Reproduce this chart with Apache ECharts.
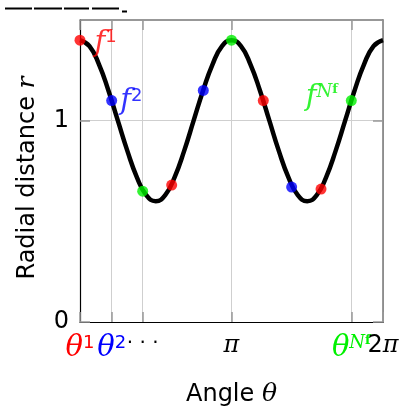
<!DOCTYPE html>
<html>
<head>
<meta charset="utf-8">
<script src="https://cdn.jsdelivr.net/npm/echarts@6/dist/echarts.min.js"></script>
<style>
  html, body { margin: 0; padding: 0; background: #fff; }
  #chart { width: 399px; height: 408px; }
</style>
</head>
<body>
<div id="chart"></div>
<script>
// curve r(theta) at steps of pi/16
const curveTheta = [0, 0.196, 0.393, 0.589, 0.785, 0.982, 1.178, 1.374, 1.571, 1.767, 1.963, 2.160, 2.356,
  2.553, 2.749, 2.945, 3.142, 3.338, 3.534, 3.731, 3.927, 4.123, 4.320, 4.516, 4.712, 4.909, 5.105,
  5.301, 5.498, 5.694, 5.890, 6.087, 6.283]
const curveR = [1.40, 1.37, 1.28, 1.15, 1.00, 0.85, 0.72, 0.63, 0.60, 0.63, 0.72, 0.85, 1.00,
  1.15, 1.28, 1.37, 1.40, 1.37, 1.28, 1.15, 1.00, 0.85, 0.72, 0.63, 0.60, 0.63, 0.72,
  0.85, 1.00, 1.15, 1.28, 1.37, 1.40]

// sample points on the curve
const pointTheta = [0, 0.657, 1.300, 1.901, 2.557, 3.142, 3.801, 4.389, 4.998, 5.626]
const pointR = [1.40, 1.10, 0.65, 0.68, 1.15, 1.40, 1.10, 0.67, 0.66, 1.10]
const pointColor = ['#ff0000', '#0000ff', '#00f000', '#ff0000', '#0000ff', '#00f000',
  '#ff0000', '#0000ff', '#ff0000', '#00f000']

// tick values and labels (2pi goes on its own overlay axis so it is not hidden by overlap)
const xTickValues = [0, 0.657, 1.300, Math.PI, 5.626, 2 * Math.PI]
const xLabelValues = [0, 0.657, 1.300, Math.PI, 5.626]
const xTickLabels = ['{r|θ}{rs|1}', '{b|θ}{bs|2}', '{d|· · ·}', '{k|π}', '{g|θ}{gs|N}{gss|f}']
const xEndValue = [2 * Math.PI]
const xEndLabel = '{n|2}{k|π}'
const yTickValues = [0, 1]
const yTickLabels = ['0', '1']

const chart = echarts.init(document.getElementById('chart'))

const sansFont = '"DejaVu Sans", sans-serif'
const mathFont = '"DejaVu Serif", serif'
const green = '#00f000'

const rich = {
  r: { color: '#ff0000', fontFamily: mathFont, fontStyle: 'italic', fontSize: 29 },
  rs: { color: '#ff0000', fontFamily: sansFont, fontSize: 18, verticalAlign: 'top' },
  b: { color: '#0000ff', fontFamily: mathFont, fontStyle: 'italic', fontSize: 29 },
  bs: { color: '#0000ff', fontFamily: sansFont, fontSize: 18, verticalAlign: 'top' },
  g: { color: green, fontFamily: mathFont, fontStyle: 'italic', fontSize: 29 },
  gs: { color: green, fontFamily: mathFont, fontStyle: 'italic', fontSize: 18, verticalAlign: 'top' },
  gss: { color: green, fontFamily: mathFont, fontWeight: 'bold', fontSize: 13, verticalAlign: 'top' },
  d: { color: '#000', fontFamily: sansFont, fontSize: 20, padding: [0, 0, 14, 0] },
  n: { color: '#000', fontFamily: sansFont, fontSize: 24 },
  k: { color: '#000', fontFamily: mathFont, fontStyle: 'italic', fontSize: 24 }
}

const pointData = pointTheta.map((t, i) => ({
  value: [t, pointR[i]],
  itemStyle: { color: pointColor[i] }
}))
pointData[0].label = { show: true, position: 'right', distance: 9, offset: [0, 3], formatter: '{r|f}{rs|1}' }
pointData[1].label = { show: true, position: 'right', distance: 3, offset: [0, 1], formatter: '{b|f}{bs|2}' }
pointData[9].label = { show: true, position: 'left', distance: 8, offset: [0, -3], formatter: '{g|f}{gs|N}{gss|f}' }

const gridColor = '#cfcfcf'
const tickColor = '#999'

const option = {
  animation: false,
  grid: { left: 80, right: 16, top: 20, bottom: 86, containLabel: false, outerBoundsMode: 'none' },
  xAxis: [
    {
      type: 'value',
      min: 0,
      max: 2 * Math.PI,
      position: 'bottom',
      axisLine: { onZero: false, lineStyle: { color: '#000', width: 1.2 } },
      axisTick: { show: true, inside: true, length: 10, customValues: xTickValues, lineStyle: { color: tickColor, width: 1.5 } },
      splitLine: { show: true, lineStyle: { color: gridColor, width: 1 } },
      axisLabel: {
        customValues: xLabelValues,
        hideOverlap: false,
        margin: 12,
        formatter: (v) => {
          const i = xLabelValues.findIndex(x => Math.abs(x - v) < 1e-6)
          return i >= 0 ? xTickLabels[i] : ''
        },
        rich: rich
      },
      name: 'Angle {i|θ}',
      nameLocation: 'middle',
      nameGap: 60,
      nameTextStyle: {
        fontFamily: sansFont, fontSize: 24, color: '#000',
        rich: { i: { fontFamily: mathFont, fontStyle: 'italic', fontSize: 25, color: '#000' } }
      }
    },
    {
      type: 'value',
      min: 0,
      max: 2 * Math.PI,
      position: 'top',
      axisLine: { show: true, onZero: false, lineStyle: { color: '#777', width: 1.5 } },
      axisTick: { show: true, inside: true, length: 10, customValues: xTickValues, lineStyle: { color: tickColor, width: 1.5 } },
      axisLabel: { show: false },
      splitLine: { show: false }
    },
    {
      type: 'value',
      min: 0,
      max: 2 * Math.PI,
      position: 'bottom',
      offset: 0,
      axisLine: { show: false, onZero: false },
      axisTick: { show: false },
      splitLine: { show: false },
      axisLabel: {
        customValues: xEndValue,
        showMaxLabel: true,
        margin: 12,
        formatter: () => xEndLabel,
        rich: rich
      }
    }
  ],
  yAxis: [
    {
      type: 'value',
      min: 0,
      max: 1.5,
      position: 'left',
      axisLine: { show: true, onZero: false, lineStyle: { color: '#000', width: 1.2 } },
      axisTick: { show: true, inside: true, length: 10, customValues: yTickValues, lineStyle: { color: tickColor, width: 1.5 } },
      splitLine: { show: true, lineStyle: { color: gridColor, width: 1 } },
      axisLabel: {
        customValues: yTickValues,
        margin: 11,
        fontFamily: sansFont,
        fontSize: 24,
        color: '#000',
        padding: [6, 0, 0, 0],
        formatter: (v) => {
          const i = yTickValues.indexOf(v)
          return i >= 0 ? yTickLabels[i] : ''
        }
      },
      name: 'Radial distance {i|r}',
      nameLocation: 'middle',
      nameGap: 40,
      nameTextStyle: {
        fontFamily: sansFont, fontSize: 24, color: '#000', padding: [0, 14, 0, 0],
        rich: { i: { fontFamily: mathFont, fontStyle: 'italic', fontSize: 25, color: '#000' } }
      }
    },
    {
      type: 'value',
      min: 0,
      max: 1.5,
      position: 'right',
      axisLine: { show: true, onZero: false, lineStyle: { color: '#777', width: 1.5 } },
      axisTick: { show: true, inside: true, length: 10, customValues: yTickValues, lineStyle: { color: tickColor, width: 1.5 } },
      axisLabel: { show: false },
      splitLine: { show: false }
    }
  ],
  series: [
    {
      name: 'r',
      type: 'line',
      smooth: 0.5,
      showSymbol: false,
      symbol: 'none',
      data: curveTheta.map((t, i) => [t, curveR[i]]),
      lineStyle: { color: '#000', width: 4.5 },
      z: 2
    },
    {
      name: 'points',
      type: 'scatter',
      symbolSize: 11,
      data: pointData,
      label: { show: false, rich: rich },
      z: 3
    }
  ],
  graphic: [
    { type: 'line', shape: { x1: 5, y1: 8.5, x2: 32, y2: 8.5 }, style: { stroke: '#000', lineWidth: 2 } },
    { type: 'line', shape: { x1: 34, y1: 8.5, x2: 62, y2: 8.5 }, style: { stroke: '#000', lineWidth: 2 } },
    { type: 'line', shape: { x1: 64, y1: 8.5, x2: 89, y2: 8.5 }, style: { stroke: '#000', lineWidth: 2 } },
    { type: 'line', shape: { x1: 92, y1: 8.5, x2: 119, y2: 8.5 }, style: { stroke: '#000', lineWidth: 2 } },
    { type: 'line', shape: { x1: 122, y1: 11.5, x2: 127, y2: 11.5 }, style: { stroke: '#000', lineWidth: 2 } }
  ]
}

chart.setOption(option)
</script>
</body>
</html>
